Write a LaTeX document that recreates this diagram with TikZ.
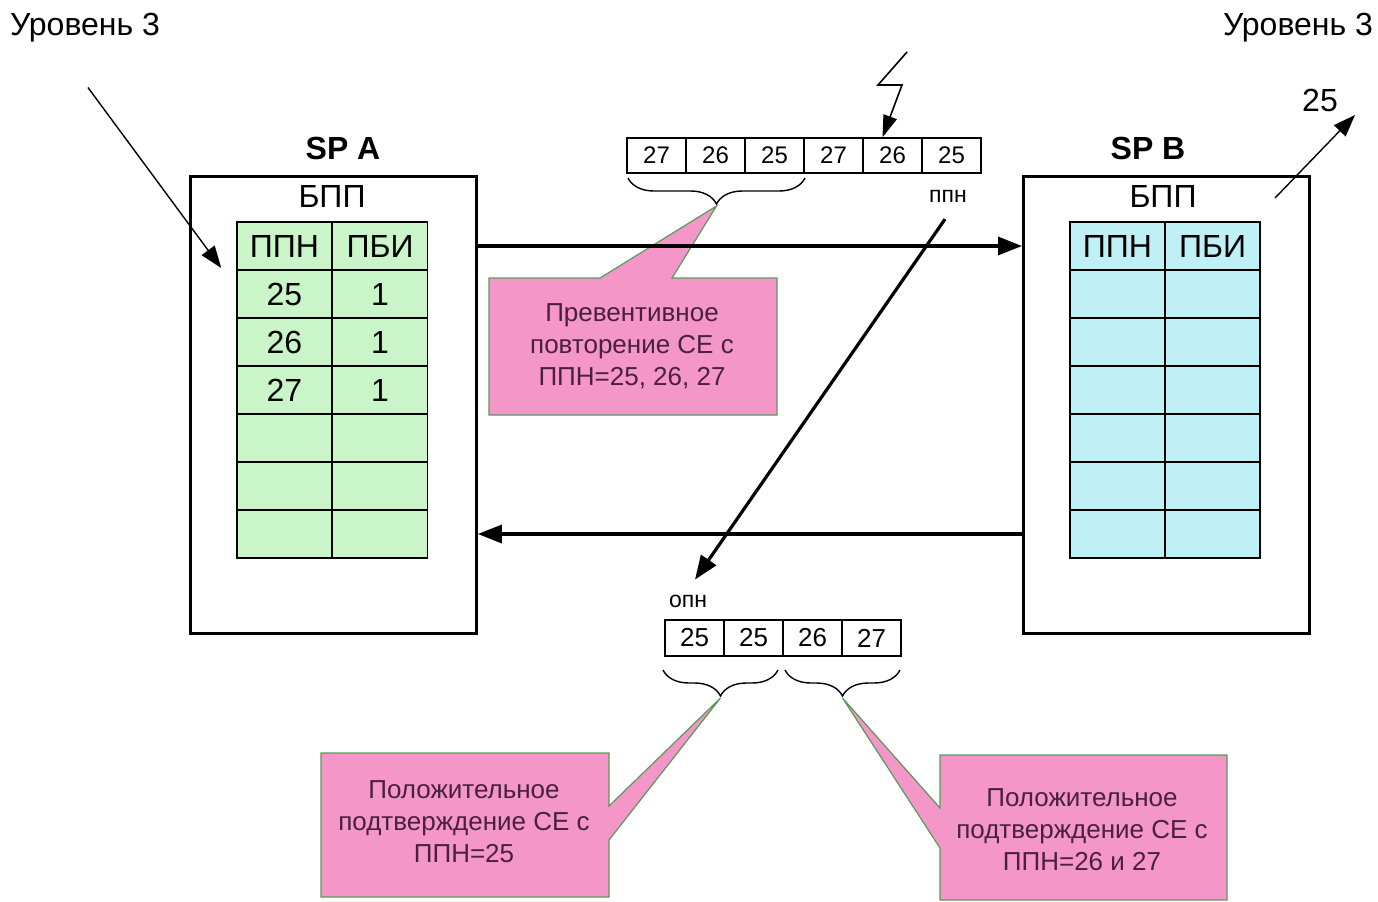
\documentclass[tikz,border=0pt]{standalone}
\usepackage{fontspec}
\setmainfont{Liberation Sans}
\usetikzlibrary{calc}
\usetikzlibrary{positioning}
\usetikzlibrary{arrows.meta}
\usetikzlibrary{decorations.pathreplacing}

\definecolor{tblA}{HTML}{C9F5C9}
\definecolor{tblB}{HTML}{BFF0F5}
\definecolor{pinkC}{HTML}{F596C8}
\definecolor{edgeC}{HTML}{5A9A5A}
\definecolor{txtC}{HTML}{4A2040}

\tikzset{
  spbox/.style={draw, line width=1.4pt, minimum width=143pt, minimum height=228.5pt, anchor=north west, inner sep=0pt},
  cellA/.style={draw, line width=0.8pt, fill=tblA, minimum width=47.5pt, minimum height=24pt, inner sep=0pt, font=\fontsize{16}{18}\selectfont},
  cellB/.style={cellA, fill=tblB},
  frm/.style={draw, line width=0.7pt, fill=white, minimum width=29.5pt, minimum height=17.5pt, inner sep=0pt, font=\fontsize{12}{14}\selectfont},
  callout/.style={fill=pinkC, draw=edgeC, line width=0.6pt},
  ctext/.style={text=txtC, align=center, font=\fontsize{13}{16}\selectfont},
  big/.style={font=\fontsize{16}{18}\selectfont},
  link/.style={line width=1.6pt, -{Triangle[length=12pt,width=9pt]}},
  lvlarrow/.style={line width=0.7pt, -{Triangle[length=11pt,width=8pt]}},
  brc/.style={decorate, decoration={brace, amplitude=13pt, mirror}, line width=0.7pt},
}

\begin{document}
\begin{tikzpicture}[x=0.5pt,y=-0.5pt]
    \useasboundingbox (0,0) rectangle (1378,901);

    % level labels
    \node[big] (lvlA) at (85,28) {Уровень 3};
    \node[big] (lvlB) at (1298,28) {Уровень 3};

    % the two stations
    \node[spbox] (spA) at (189,175) {};
    \node[spbox] (spB) at (1022,175) {};
    \node[big, font=\fontsize{16}{18}\selectfont\bfseries] (nameA) at (343,148) {SP A};
    \node[big, font=\fontsize{16}{18}\selectfont\bfseries] (nameB) at (1148,148) {SP B};
    \node[big] (bufA) at (332,196) {БПП};
    \node[big] (bufB) at (1163,196) {БПП};

    % tables
    \foreach \r/\p/\q in {0/ППН/ПБИ,1/25/1,2/26/1,3/27/1,4/{}/{},5/{}/{},6/{}/{}} {
      \node[cellA] (a\r1) at (284.5,{246+48*\r}) {\p};
      \node[cellA] (a\r2) at (380,{246+48*\r}) {\q};
    }
    \foreach \r/\p/\q in {0/ППН/ПБИ,1/{}/{},2/{}/{},3/{}/{},4/{}/{},5/{}/{},6/{}/{}} {
      \node[cellB] (b\r1) at (1117.5,{246+48*\r}) {\p};
      \node[cellB] (b\r2) at (1212.5,{246+48*\r}) {\q};
    }

    % frames on the line
    \foreach \v [count=\i] in {27,26,25,27,26,25}
      \node[frm] (top\i) at ({656.5+59*(\i-1)},155.5) {\v};
    \foreach \v [count=\i] in {25,25,26,27}
      \node[frm, minimum height=18pt, font=\fontsize{13}{15}\selectfont] (bot\i) at ({694.5+59*(\i-1)},638) {\v};

    \node[font=\fontsize{11.5}{13}\selectfont] (ppn) at (948,196) {ппн};
    \node[font=\fontsize{11.5}{13}\selectfont] (opn) at (688,601) {опн};

    % braces
    \draw[brc] (628,178) -- (805,178);
    \draw[brc] (663,670) -- (778,670);
    \draw[brc] (785,670) -- (900,670);
    \coordinate (tipP) at (716.5,206);
    \coordinate (tip1) at (720.5,698);
    \coordinate (tip2) at (842.5,698);

    % callouts
    \draw[callout] (489,278) -- (600,278) -- (tipP) -- (672,278) -- (777,278) -- (777,415) -- (489,415) -- cycle;
    \node[ctext] (cPrev) at (632,346) {Превентивное\\повторение СЕ с\\ППН=25, 26, 27};

    \draw[callout] (321,753) -- (609,753) -- (609,806) -- (tip1) -- (609,840) -- (609,897) -- (321,897) -- cycle;
    \node[ctext] (cPos1) at (464,822) {Положительное\\подтверждение СЕ с\\ППН=25};

    \draw[callout] (940,755) -- (1227,755) -- (1227,900) -- (940,900) -- (940,848) -- (tip2) -- (940,808) -- cycle;
    \node[ctext] (cPos2) at (1082,830) {Положительное\\подтверждение СЕ с\\ППН=26 и 27};

    % links between stations
    \draw[link] (spA.east |- a01) -- (spB.west |- a01);
    \draw[link] (spB.west |- a61) -- (spA.east |- a61);
    \draw[link] ($(ppn.south)+(-3,10)$) -- ($(opn.north)+(7,-8)$);

    % error on the line
    \draw[line width=0.8pt, -{Triangle[length=11pt,width=7pt]}] (907,52) -- (878,85) -- (902,85) -- ([xshift=-5pt]top5.north);

    % level 3 in and out
    \draw[lvlarrow] ($(lvlA.south)+(3,38)$) -- ($(a11.west)+(-15,-26)$);
    \node[big] (out25) at (1320,100) {25};
    \coordinate (outB) at (1275,198);
    \draw[lvlarrow] (outB) -- (1355,115);
\end{tikzpicture}
\end{document}
